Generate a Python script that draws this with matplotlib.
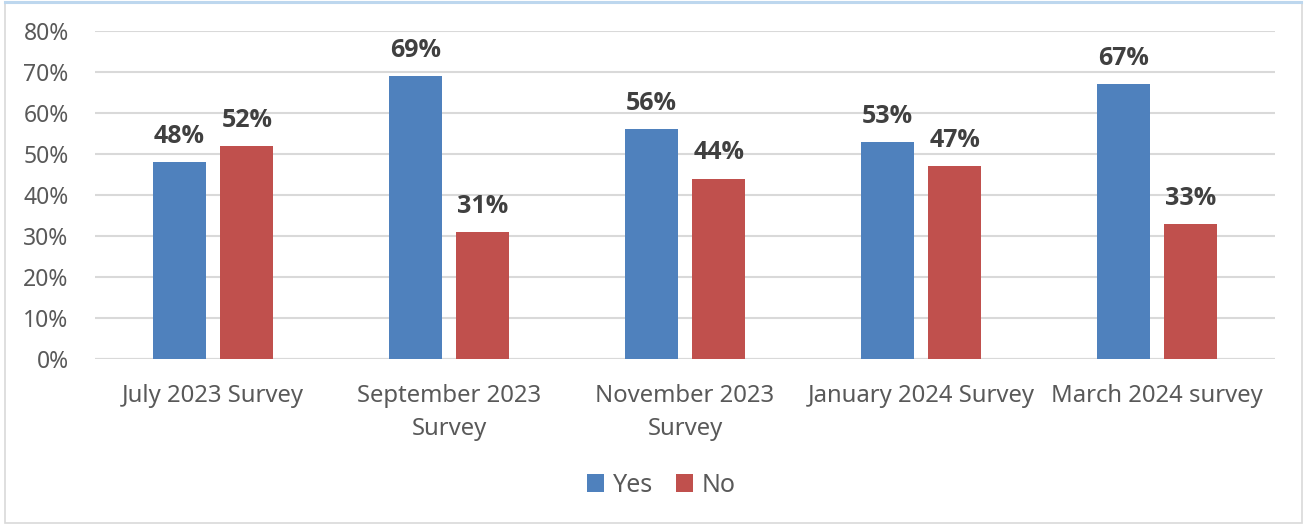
import numpy as np
import matplotlib.pyplot as plt
from matplotlib.patches import Rectangle

# Survey results
categories = ['July 2023 Survey', 'September 2023\nSurvey', 'November 2023\nSurvey',
              'January 2024 Survey', 'March 2024 survey']
yes_vals = [48, 69, 56, 53, 67]
no_vals = [52, 31, 44, 47, 33]

blue = '#4F81BD'
red = '#C0504D'
plt.rcParams['font.family'] = ['Noto Sans', 'DejaVu Sans']

fig = plt.figure(figsize=(13.07, 5.25), dpi=100)
ax = fig.add_axes([0.0727, 0.3162, 0.9028, 0.6248])

x = np.arange(len(categories))
w = 0.225
ax.bar(x - 0.143, yes_vals, w, color=blue, label='Yes', zorder=3)
ax.bar(x + 0.143, no_vals, w, color=red, label='No', zorder=3)

lab_font = dict(fontsize=18, fontweight='bold', color='#404040', family='Open Sans')
for xi, v in zip(x, yes_vals):
    ax.text(xi - 0.143, v + 3.2, f'{v}%', ha='center', va='bottom', **lab_font)
for xi, v in zip(x, no_vals):
    ax.text(xi + 0.143, v + 3.2, f'{v}%', ha='center', va='bottom', **lab_font)

ax.set_xlim(-0.5, len(categories) - 0.5)
ax.set_ylim(0, 80)
ax.set_yticks(range(0, 81, 10))
ax.set_yticklabels([f'{t}%' for t in range(0, 81, 10)])
ax.set_xticks(x)
ax.set_xticklabels(categories, linespacing=1.5)
ax.tick_params(axis='y', length=0, pad=19, labelsize=16.5, labelcolor='#595959')
ax.tick_params(axis='x', length=0, pad=18, labelsize=17.2, labelcolor='#595959')
ax.grid(axis='y', color='#D9D9D9', linewidth=1.5, zorder=0)
for s in ax.spines.values():
    s.set_visible(False)
ax.axhline(0, color='#D9D9D9', linewidth=1.5, zorder=1)

fig.legend(loc='center', bbox_to_anchor=(0.506, 1 - 485 / 525), ncol=2, frameon=False,
           fontsize=18, handlelength=0.7, handleheight=0.7, handletextpad=0.35,
           columnspacing=0.9, labelcolor='#595959')

# outer frame
fig.patches.append(Rectangle((0.004, 0.003), 0.992, 0.994, transform=fig.transFigure,
                             fill=False, edgecolor='#D9D9D9', linewidth=1.2))
fig.patches.append(Rectangle((0.004, 0.995), 0.992, 0.002, transform=fig.transFigure,
                             fill=False, edgecolor='#BDD7EE', linewidth=1.5))

fig.savefig('out.png', dpi=100)
